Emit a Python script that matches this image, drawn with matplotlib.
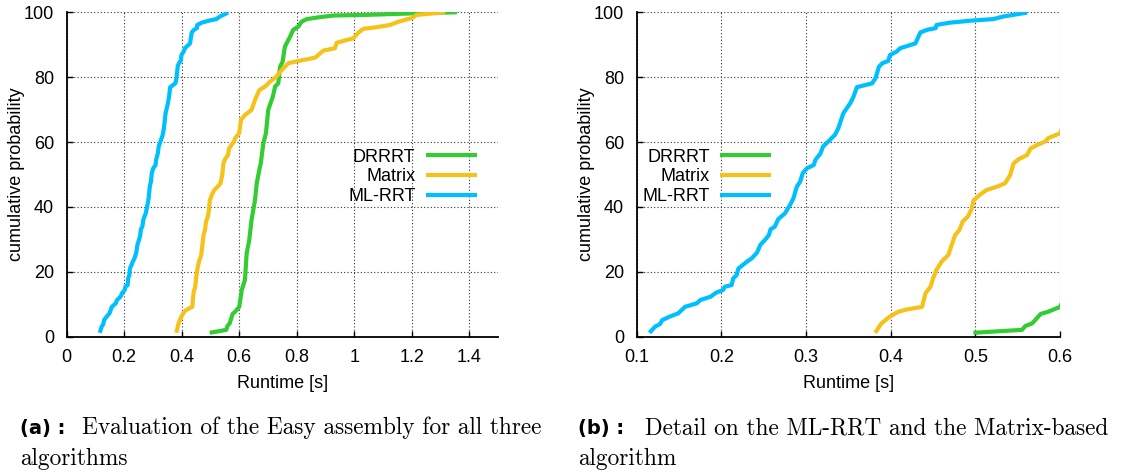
import matplotlib
matplotlib.use('Agg')
import matplotlib.pyplot as plt

# cumulative distributions (runtime [s], probability [%])
ml_x = [0.115, 0.1217, 0.1276, 0.130, 0.139, 0.149, 0.157, 0.171, 0.175, 0.187, 0.194,
        0.202, 0.204, 0.212, 0.214, 0.218, 0.220, 0.230, 0.236, 0.242, 0.246, 0.252,
        0.256, 0.258, 0.263, 0.267, 0.275, 0.281, 0.285, 0.289, 0.293, 0.296, 0.301,
        0.309, 0.311, 0.317, 0.320, 0.328, 0.334, 0.338, 0.344, 0.348, 0.352, 0.356,
        0.360, 0.366, 0.378, 0.382, 0.386, 0.390, 0.397, 0.399, 0.407, 0.411, 0.417,
        0.429, 0.435, 0.443, 0.453, 0.454, 0.470, 0.494, 0.521, 0.533, 0.561]
ml_y = [1.2, 3.1, 3.9, 5.1, 6.2, 7.2, 9.2, 10.3, 11.3, 12.3, 13.6,
        14.4, 15.4, 15.9, 18.0, 19.0, 21.0, 23.1, 24.2, 25.9, 28.3, 30.0,
        31.3, 33.1, 33.9, 36.2, 38.0, 40.6, 42.6, 46.2, 47.8, 50.4, 51.9,
        52.9, 54.5, 56.5, 58.6, 60.6, 62.2, 64.2, 68.9, 70.4, 71.9, 74.0,
        76.9, 77.3, 78.1, 79.7, 83.2, 84.3, 85.0, 86.8, 87.9, 88.9, 89.4,
        90.4, 93.8, 94.6, 95.1, 96.1, 96.8, 97.4, 97.9, 98.7, 99.9]

mat_x = [0.3815, 0.389, 0.399, 0.409, 0.419, 0.437, 0.441, 0.447, 0.450, 0.454, 0.460,
         0.468, 0.472, 0.476, 0.481, 0.485, 0.491, 0.495, 0.498, 0.505, 0.513, 0.525,
         0.535, 0.541, 0.545, 0.551, 0.561, 0.565, 0.573, 0.582, 0.586, 0.600, 0.606,
         0.620, 0.643, 0.655, 0.670, 0.690, 0.707, 0.730, 0.748, 0.771, 0.812, 0.864,
         0.893, 0.933, 0.939, 0.997, 1.014, 1.032, 1.078, 1.125, 1.154, 1.200, 1.217, 1.316]
mat_y = [1.2, 4.1, 6.2, 7.7, 8.4, 9.2, 13.4, 15.4, 18.0, 20.6, 23.1,
         25.2, 28.3, 31.3, 32.9, 35.5, 37.0, 39.1, 42.1, 43.7, 45.2, 46.2,
         47.3, 49.8, 53.4, 54.7, 56.0, 58.0, 59.1, 60.1, 61.2, 62.7, 66.8,
         68.3, 69.9, 73.0, 76.0, 77.1, 78.6, 80.2, 82.2, 84.3, 85.1, 86.0,
         88.2, 88.9, 90.6, 92.0, 93.7, 94.9, 95.4, 96.1, 97.1, 98.2, 99.2, 100.0]

dr_x = [0.4976, 0.555, 0.559, 0.567, 0.577, 0.586, 0.600, 0.609, 0.620, 0.626, 0.635,
        0.643, 0.655, 0.661, 0.670, 0.675, 0.684, 0.693, 0.701, 0.717, 0.725, 0.736,
        0.742, 0.751, 0.759, 0.777, 0.788, 0.806, 0.817, 0.835, 0.881, 0.928, 1.043,
        1.217, 1.357]
dr_y = [1.2, 2.1, 3.3, 4.1, 7.0, 7.7, 9.2, 14.4, 17.5, 25.7, 29.8,
        36.0, 42.1, 47.3, 51.4, 53.4, 59.6, 62.7, 69.9, 74.0, 77.1, 78.1,
        83.2, 84.8, 89.4, 92.5, 94.6, 95.6, 97.1, 97.9, 98.5, 99.0, 99.2,
        99.7, 100.0]

series = [("DRRRT", dr_x, dr_y, "#33cc33"),
          ("Matrix", mat_x, mat_y, "#f5c21b"),
          ("ML-RRT", ml_x, ml_y, "#00bfff")]

plt.rcParams['font.family'] = ['Liberation Sans', 'DejaVu Sans']
plt.rcParams['font.size'] = 13

fig = plt.figure(figsize=(11.32, 4.72), dpi=100)
ax1 = fig.add_axes([0.0589, 0.2867, 0.381, 0.6873])
ax2 = fig.add_axes([0.5625, 0.2867, 0.374, 0.6873])


def style(ax, xlim, xticks, xlabels, leg_x):
    for name, xs, ys, c in series:
        ax.plot(xs, ys, color=c, lw=3.0, label=name, solid_capstyle='butt')
    ax.set_xlim(*xlim)
    ax.set_ylim(0, 100)
    ax.set_xticks(xticks)
    ax.set_xticklabels(xlabels)
    ax.set_yticks([0, 20, 40, 60, 80, 100])
    ax.grid(True, color='#333333', linestyle=(0, (1, 2)), linewidth=0.8)
    ax.set_axisbelow(True)
    for s in ['top', 'right']:
        ax.spines[s].set_visible(False)
    for s in ['left', 'bottom']:
        ax.spines[s].set_linewidth(1.3)
    ax.tick_params(direction='in', length=4, width=1, pad=9, labelsize=13)
    ax.set_xlabel('Runtime [s]', fontsize=13, labelpad=6)
    ax.set_ylabel('cumulative probability', fontsize=13, labelpad=-1)
    ax.legend(loc='upper right', bbox_to_anchor=(leg_x, 0.58), frameon=False,
              markerfirst=False, handlelength=2.8, handletextpad=0.6,
              labelspacing=0.15, borderpad=0, borderaxespad=0, fontsize=13)


style(ax1, (0, 1.5), [0, 0.2, 0.4, 0.6, 0.8, 1.0, 1.2, 1.4],
      ['0', '0.2', '0.4', '0.6', '0.8', '1', '1.2', '1.4'], 0.951)
style(ax2, (0.1, 0.6), [0.1, 0.2, 0.3, 0.4, 0.5, 0.6],
      ['0.1', '0.2', '0.3', '0.4', '0.5', '0.6'], 0.317)

# captions
cap_font = dict(family='cmr10', fontsize=16.8, va='baseline')
tag_font = dict(family='DejaVu Sans', fontsize=14, fontweight='bold', va='baseline')
y1, y2 = 0.080, 0.0148

fig.text(20 / 1132, y1, '(a) :', **tag_font)
fig.text(82 / 1132, y1, 'Evaluation of the Easy assembly for all three', **cap_font)
fig.text(20 / 1132, y2, 'algorithms', **cap_font)

fig.text(578 / 1132, y1, '(b) :', **tag_font)
fig.text(645 / 1132, y1, 'Detail on the ML-RRT and the Matrix-based', **cap_font)
fig.text(578 / 1132, y2, 'algorithm', **cap_font)

fig.savefig('out.png', dpi=100)
